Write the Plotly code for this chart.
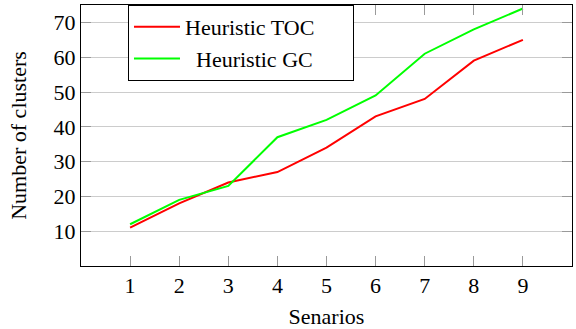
import plotly.graph_objects as go

scenarios = [1, 2, 3, 4, 5, 6, 7, 8, 9]
toc = [11, 18, 24, 27, 34, 43, 48, 59, 65]
gc = [12, 19, 23, 37, 42, 49, 61, 68, 74]
y_ticks = [10, 20, 30, 40, 50, 60, 70]
names = ["Heuristic TOC\u00a0\u00a0\u00a0\u00a0\u00a0\u00a0", "\u00a0\u00a0Heuristic GC"]

FONT = "Liberation Serif"
FS = 22
fig = go.Figure()
fig.add_trace(go.Scatter(x=scenarios, y=toc, mode="lines", name=names[0],
                         line=dict(color="#ff0000", width=2)))
fig.add_trace(go.Scatter(x=scenarios, y=gc, mode="lines", name=names[1],
                         line=dict(color="#00ff00", width=2)))

axis_common = dict(showline=True, linecolor="black", linewidth=1, mirror="allticks",
                   ticks="inside", ticklen=10, tickcolor="#9a9a9a", tickwidth=1,
                   tickfont=dict(family=FONT, size=FS, color="black"), zeroline=False)

fig.update_xaxes(range=[0, 10], tickvals=scenarios, showgrid=False,
                 title=dict(text="Senarios", font=dict(family=FONT, size=FS, color="black"), standoff=12),
                 **axis_common)
fig.update_yaxes(range=[0, 75], tickvals=y_ticks, showgrid=True, gridcolor="#cccccc", gridwidth=1,
                 title=dict(text="Number of clusters", font=dict(family=FONT, size=FS, color="black"), standoff=20),
                 **axis_common)

fig.update_layout(
    width=576, height=329,
    margin=dict(l=81, r=4, t=5, b=63),
    plot_bgcolor="white", paper_bgcolor="white",
    font=dict(family=FONT, size=FS, color="black"),
    legend=dict(x=0.0957, y=1, xanchor="left", yanchor="top",
                bgcolor="white", bordercolor="black", borderwidth=1,
                font=dict(family=FONT, size=FS, color="black"),
                itemwidth=46, tracegroupgap=0),
    showlegend=True,
)
fig.write_html("out.html")
